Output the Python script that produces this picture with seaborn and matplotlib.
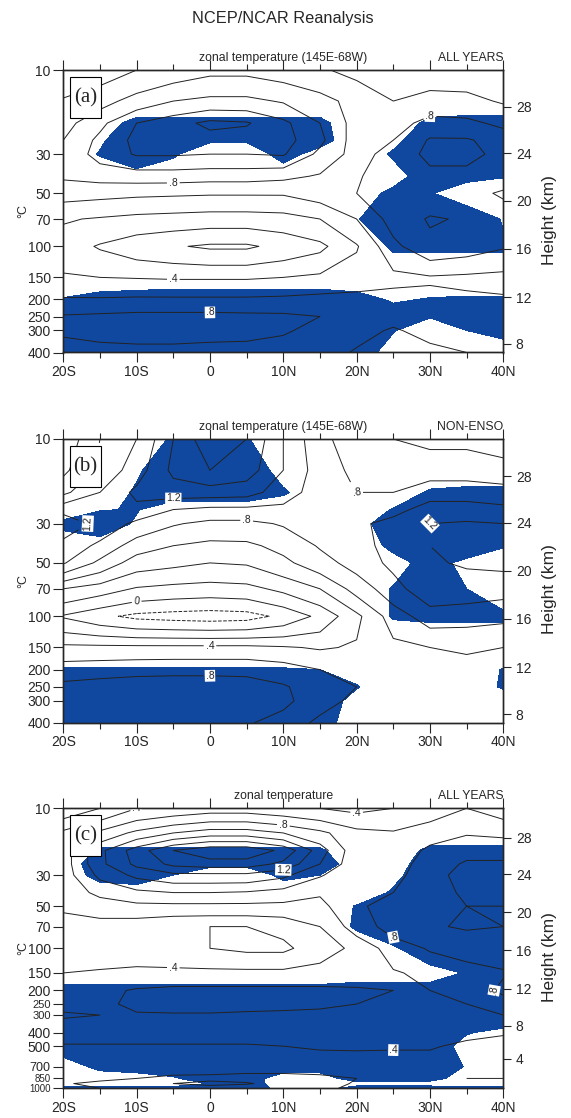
import numpy as np
import matplotlib
matplotlib.use("Agg")
import matplotlib.pyplot as plt
import matplotlib.patches as mpatches
from matplotlib.ticker import NullLocator
import seaborn as sns

sns.set_style("ticks")
plt.rcParams['font.family'] = ['Liberation Sans', 'DejaVu Sans']

# grid: latitude (deg, S negative) and pressure levels (hPa)
lat = [-20, -15, -10, -5, 0, 5, 10, 15, 20, 25, 30, 35, 40]
lev_ab = [10, 15, 20, 25, 30, 40, 50, 70, 100, 150, 200, 250, 300, 400]
lev_c = [10, 15, 20, 25, 30, 40, 50, 70, 100, 150, 200, 250, 300, 400, 500, 700, 850, 925, 1000]

# (a) zonal temperature 145E-68W, all years (rows = levels, cols = lat)
temp_a = [
    [0.45, 0.5, 0.6, 0.68, 0.75, 0.75, 0.7, 0.62, 0.55, 0.5, 0.52, 0.5, 0.42],
    [0.62, 0.72, 0.88, 1.0, 1.05, 1.05, 0.98, 0.88, 0.72, 0.6, 0.65, 0.65, 0.58],
    [0.72, 0.95, 1.2, 1.32, 1.45, 1.42, 1.25, 1.0, 0.72, 0.7, 0.88, 0.85, 0.75],
    [0.8, 1.05, 1.25, 1.3, 1.32, 1.3, 1.28, 1.05, 0.7, 0.8, 1.02, 1.02, 0.92],
    [0.84, 1.08, 1.22, 1.22, 1.2, 1.2, 1.22, 0.95, 0.72, 0.88, 1.05, 1.05, 0.95],
    [0.83, 0.88, 0.9, 0.9, 0.88, 0.88, 0.85, 0.78, 0.78, 0.9, 0.95, 0.95, 0.88],
    [0.68, 0.66, 0.64, 0.63, 0.62, 0.62, 0.62, 0.7, 0.8, 0.85, 0.88, 0.85, 0.78],
    [0.42, 0.38, 0.34, 0.32, 0.3, 0.3, 0.32, 0.4, 0.6, 0.88, 1.02, 0.98, 0.88],
    [0.3, 0.18, 0.08, 0.02, -0.03, -0.03, 0.06, 0.15, 0.38, 0.75, 0.95, 0.9, 0.82],
    [0.42, 0.4, 0.39, 0.38, 0.38, 0.38, 0.4, 0.44, 0.5, 0.55, 0.58, 0.56, 0.54],
    [0.62, 0.62, 0.63, 0.63, 0.63, 0.63, 0.64, 0.66, 0.66, 0.66, 0.64, 0.63, 0.62],
    [0.82, 0.84, 0.86, 0.86, 0.86, 0.85, 0.84, 0.8, 0.72, 0.66, 0.7, 0.72, 0.72],
    [0.83, 0.86, 0.87, 0.87, 0.86, 0.85, 0.82, 0.75, 0.66, 0.58, 0.66, 0.72, 0.75],
    [0.72, 0.74, 0.75, 0.75, 0.74, 0.74, 0.72, 0.68, 0.58, 0.5, 0.55, 0.6, 0.62],
]
sig_a = [
    [0, 0, 0, 0, 0, 0, 0, 0, 0, 0, 0, 0, 0],
    [0, 0, 0, 0, 0, 0, 0, 0, 0, 0, 0, 0, 0],
    [0, 0.2, 0.7, 0.7, 0.7, 0.7, 0.7, 0.7, 0, 0, 0.7, 0.8, 0.8],
    [0, 0.4, 1, 1, 0.6, 0.6, 1, 0.8, 0, 0.3, 1, 1, 1],
    [0, 0.55, 1, 0.6, 0, 0, 0.8, 0.2, 0, 0.6, 1, 1, 1],
    [0, 0, 0.2, 0, 0, 0, 0, 0, 0, 0.2, 0.9, 0.7, 0.55],
    [0, 0, 0, 0, 0, 0, 0, 0, 0.1, 0.7, 0.55, 0.1, 0],
    [0, 0, 0, 0, 0, 0, 0, 0, 0.45, 1, 1, 1, 0.45],
    [0, 0, 0, 0, 0, 0, 0, 0, 0, 0.6, 0.6, 0.6, 0.6],
    [0, 0, 0, 0, 0, 0, 0, 0, 0, 0, 0, 0, 0],
    [0.55, 0.8, 0.9, 1, 1, 1, 1, 1, 0.8, 0.4, 0.55, 0.6, 0.6],
    [1, 1, 1, 1, 1, 1, 1, 1, 1, 0.9, 0.55, 1, 1],
    [1, 1, 1, 1, 1, 1, 1, 1, 1, 0.55, 0, 0.5, 1],
    [1, 1, 1, 1, 1, 1, 1, 1, 1, 0.1, 0, 0, -0.4],
]

# (b) zonal temperature 145E-68W, non-ENSO years
temp_b = [
    [0.45, 0.8, 1.0, 1.4, 1.75, 1.6, 1.2, 0.85, 0.7, 0.6, 0.55, 0.55, 0.5],
    [0.55, 0.85, 1.1, 1.45, 1.6, 1.5, 1.2, 0.9, 0.75, 0.7, 0.72, 0.72, 0.68],
    [0.75, 1.0, 1.25, 1.3, 1.3, 1.28, 1.1, 0.9, 0.8, 0.8, 0.9, 0.9, 0.88],
    [1.15, 1.1, 1.15, 1.0, 0.95, 0.95, 0.95, 0.95, 0.85, 0.92, 1.1, 1.1, 1.05],
    [1.3, 1.15, 0.95, 0.82, 0.75, 0.75, 0.82, 0.92, 0.95, 1.08, 1.2, 1.22, 1.2],
    [1.15, 0.95, 0.7, 0.6, 0.55, 0.56, 0.66, 0.82, 0.92, 1.08, 1.2, 1.25, 1.25],
    [1.02, 0.75, 0.5, 0.45, 0.4, 0.42, 0.55, 0.72, 0.88, 1.05, 1.18, 1.22, 1.25],
    [0.4, 0.3, 0.18, 0.14, 0.12, 0.14, 0.25, 0.4, 0.68, 0.92, 1.15, 1.12, 1.08],
    [-0.02, -0.15, -0.25, -0.28, -0.3, -0.28, -0.15, 0.05, 0.35, 0.7, 0.9, 0.88, 0.85],
    [0.45, 0.45, 0.45, 0.45, 0.45, 0.45, 0.42, 0.38, 0.42, 0.55, 0.6, 0.62, 0.6],
    [0.7, 0.72, 0.74, 0.75, 0.75, 0.75, 0.7, 0.6, 0.55, 0.55, 0.55, 0.55, 0.55],
    [0.85, 0.88, 0.9, 0.9, 0.9, 0.88, 0.82, 0.7, 0.6, 0.55, 0.5, 0.52, 0.52],
    [0.88, 0.92, 0.95, 0.95, 0.95, 0.92, 0.85, 0.68, 0.55, 0.5, 0.48, 0.5, 0.5],
    [0.85, 0.88, 0.88, 0.86, 0.85, 0.82, 0.72, 0.55, 0.45, 0.45, 0.42, 0.45, 0.45],
]
sig_b = [
    [0, 0, 0, 0.6, 1, 0.55, 0, 0, 0, 0, 0, 0, 0],
    [0, 0, 0.4, 1, 1, 1, 0.2, 0, 0, 0, 0, 0, 0],
    [0, 0, 0.6, 1, 1, 1, 0.6, 0, 0, 0, 0.6, 0.7, 0.7],
    [0, 0.45, 0.55, 0, 0, 0, 0, 0, 0, 0.55, 1, 1, 1],
    [0.7, 1, 0.4, 0, 0, 0, 0, 0, 0.15, 1, 1, 1, 1],
    [0, 0.1, 0, 0, 0, 0, 0, 0, 0, 0.7, 1, 1, 0.55],
    [0, 0, 0, 0, 0, 0, 0, 0, 0, 0.2, 0.8, 0.3, 0.1],
    [0, 0, 0, 0, 0, 0, 0, 0, 0, 0.55, 1, 0.5, 0.2],
    [0, 0, 0, 0, 0, 0, 0, 0, 0, 0.55, 0.6, 0.6, 0.6],
    [0, 0, 0, 0, 0, 0, 0, 0, 0, 0, 0, 0, 0],
    [0.55, 0.55, 0.55, 0.55, 0.55, 0.55, 0.55, 0.5, 0.2, 0, 0, 0, 0.55],
    [1, 1, 1, 1, 1, 1, 1, 1, 0.55, 0, 0, 0, 0.6],
    [1, 1, 1, 1, 1, 1, 1, 1, 0.2, 0, 0, 0, 0],
    [1, 1, 1, 1, 1, 1, 1, 0.9, 0, 0, 0, 0, 0],
]

# (c) zonal temperature, all years, down to 1000 hPa
temp_c = [
    [0.05, 0.2, 0.4, 0.45, 0.5, 0.5, 0.45, 0.4, 0.35, 0.4, 0.5, 0.6, 0.5],
    [0.45, 0.65, 0.85, 1.0, 1.1, 1.1, 1.0, 0.85, 0.66, 0.62, 0.7, 0.78, 0.75],
    [0.5, 0.95, 1.3, 1.6, 1.75, 1.75, 1.55, 1.1, 0.66, 0.64, 0.85, 0.95, 0.95],
    [0.5, 0.95, 1.25, 1.45, 1.5, 1.5, 1.35, 1.0, 0.66, 0.68, 0.92, 1.02, 1.02],
    [0.5, 0.85, 1.05, 1.15, 1.15, 1.15, 1.05, 0.82, 0.65, 0.72, 0.95, 1.05, 1.05],
    [0.48, 0.65, 0.75, 0.8, 0.8, 0.78, 0.72, 0.62, 0.66, 0.8, 0.95, 1.02, 1.02],
    [0.42, 0.5, 0.55, 0.55, 0.55, 0.55, 0.55, 0.55, 0.75, 0.92, 0.98, 1.0, 1.0],
    [0.35, 0.32, 0.28, 0.22, 0.2, 0.2, 0.25, 0.4, 0.7, 0.88, 0.98, 1.02, 1.0],
    [0.32, 0.3, 0.28, 0.25, 0.2, 0.16, 0.16, 0.3, 0.45, 0.7, 0.82, 0.88, 0.9],
    [0.4, 0.42, 0.45, 0.45, 0.45, 0.45, 0.45, 0.48, 0.52, 0.58, 0.65, 0.72, 0.78],
    [0.52, 0.55, 0.62, 0.65, 0.65, 0.65, 0.65, 0.64, 0.62, 0.6, 0.6, 0.65, 0.85],
    [0.55, 0.55, 0.65, 0.68, 0.68, 0.68, 0.68, 0.66, 0.6, 0.55, 0.55, 0.6, 0.7],
    [0.62, 0.6, 0.58, 0.58, 0.58, 0.56, 0.54, 0.52, 0.5, 0.5, 0.5, 0.55, 0.6],
    [0.5, 0.5, 0.5, 0.5, 0.5, 0.5, 0.5, 0.48, 0.47, 0.46, 0.45, 0.45, 0.42],
    [0.38, 0.38, 0.38, 0.38, 0.38, 0.38, 0.4, 0.42, 0.42, 0.42, 0.42, 0.36, 0.32],
    [0.28, 0.3, 0.32, 0.32, 0.3, 0.3, 0.3, 0.3, 0.32, 0.3, 0.3, 0.28, 0.25],
    [0.2, 0.25, 0.2, 0.15, 0.15, 0.12, 0.12, 0.15, 0.2, 0.25, 0.22, 0.2, 0.2],
    [0.22, 0.15, 0.15, 0.2, 0.25, 0.22, 0.12, 0.12, 0.22, 0.25, 0.25, 0.25, 0.25],
    [0.25, 0.2, 0.15, 0.15, 0.12, 0.08, 0.1, 0.15, 0.25, 0.22, 0.2, 0.22, 0.28],
]
sig_c = [
    [0, 0, 0, 0, 0, 0, 0, 0, 0, 0, 0, 0, 0],
    [0, 0, 0, 0, 0, 0, 0, 0, 0, 0, 0, 0, 0],
    [0, 0.6, 0.6, 0.6, 0.6, 0.6, 0.6, 0.6, 0, 0, 0.7, 0.75, 0.75],
    [0, 1, 1, 0.8, 0.7, 0.7, 1, 1, 0, 0.1, 1, 1, 1],
    [0, 0.8, 1, 0.5, 0, 0, 0.7, 0.5, 0, 0.3, 1, 1, 1],
    [0, 0, 0, 0, 0, 0, 0, 0, 0, 0.6, 1, 1, 1],
    [0, 0, 0, 0, 0, 0, 0, 0, 0.55, 1, 1, 1, 1],
    [0, 0, 0, 0, 0, 0, 0, 0, 0.6, 1, 1, 1, 1],
    [0, 0, 0, 0, 0, 0, 0, 0, 0, 0.4, 1, 1, 1],
    [0, 0, 0, 0, 0, 0, 0, 0, 0.2, 0.2, 0.2, 0.55, 1],
    [0.8, 0.8, 0.8, 0.8, 0.8, 0.8, 0.8, 0.8, 0.8, 0.8, 0.8, 1, 1],
    [1, 1, 1, 1, 1, 1, 1, 1, 1, 1, 1, 1, 1],
    [1, 1, 1, 1, 1, 1, 1, 1, 1, 1, 1, 1, 1],
    [1, 1, 1, 1, 1, 1, 1, 1, 1, 1, 1, 0.55, 0.3],
    [1, 1, 1, 1, 1, 1, 1, 1, 1, 1, 1, 0.2, 0],
    [0, 0.75, 1, 1, 1, 1, 1, 1, 1, 1, 1, 0.45, 0],
    [0, 0, 0, 0.4, 1, 1, 0, 0, 1, 1, 0.8, 0.1, 0],
    [0, 0, 0, 0, 0.55, 1, 0, 0, 0.2, 0.2, 0.2, 0, 0],
    [0.8, 0.8, 0.8, 0.8, 1, 1, 0.2, 0.2, 0.8, 0.8, 0.8, 0.8, 0.8],
]

lat_ticks = [-20, -10, 0, 10, 20, 30, 40]
lat_labels = ['20S', '10S', '0', '10N', '20N', '30N', '40N']
p_ticks_ab = [10, 30, 50, 70, 100, 150, 200, 250, 300, 400]
p_ticks_c = [10, 30, 50, 70, 100, 150, 200, 250, 300, 400, 500, 700, 850, 1000]
# height axis, US standard atmosphere
z_km = [4, 8, 12, 16, 20, 24, 28]
z_hpa = [616.6, 356.5, 194.0, 103.5, 55.3, 29.7, 16.2]

shade = '#1048a0'
line_col = '#222222'
cont_levels = np.round(np.arange(-0.6, 2.01, 0.2), 1)


def fmt(v):
    if abs(v) < 1e-9:
        return '0'
    s = f'{v:.1f}'
    if s.startswith('0.'):
        s = s[1:]
    elif s.startswith('-0.'):
        s = '-' + s[2:]
    return s


def draw_panel(ax, lev, temp, sig, p_ticks, pbot, tag, subtitle, right_text,
               label_at, small_ticks):
    ax.contourf(lat, lev, sig, levels=[0.5, 5], colors=[shade])
    cs = ax.contour(lat, lev, temp, levels=cont_levels, colors=line_col,
                    linewidths=0.7)
    lab_lev = [l for l in cs.levels if any(abs(l - k) < 1e-6 for k in label_at)]
    labs = ax.clabel(cs, levels=lab_lev, fmt=fmt, fontsize=7.5, inline=True,
                     inline_spacing=2)
    for t in labs:
        t.set_bbox(dict(facecolor='white', edgecolor='none', pad=0.6))
    ax.set_yscale('log')
    ax.set_ylim(pbot, 10)
    ax.set_xlim(-20, 40)
    ax.set_yticks(p_ticks)
    ax.set_yticklabels([str(p) for p in p_ticks])
    for t in ax.get_yticklabels():
        if t.get_text() in small_ticks:
            t.set_fontsize(small_ticks[t.get_text()])
    ax.yaxis.set_minor_locator(NullLocator())
    ax.set_xticks(lat_ticks)
    ax.set_xticklabels(lat_labels)
    ax.set_xticks([-15, -5, 5, 15, 25, 35], minor=True)
    ax.tick_params(axis='x', which='both', top=True, bottom=True, direction='out')
    ax.tick_params(which='major', length=7, width=0.8, pad=2)
    ax.tick_params(axis='x', labelsize=10)
    ax.tick_params(axis='x', which='minor', length=4, width=0.8)
    for sp in ax.spines.values():
        sp.set_linewidth(1.0)

    ax2 = ax.twinx()
    ax2.set_yscale('log')
    ax2.set_ylim(pbot, 10)
    zt = [(z, p) for z, p in zip(z_km, z_hpa) if p < pbot]
    ax2.set_yticks([p for z, p in zt])
    ax2.set_yticklabels([str(z) for z, p in zt])
    ax2.yaxis.set_minor_locator(NullLocator())
    ax2.tick_params(axis='y', length=6, width=0.8, labelsize=10, pad=3)
    for sp in ax2.spines.values():
        sp.set_linewidth(1.0)
    ax2.text(1.105, 0.47, 'Height (km)', transform=ax.transAxes, rotation=90,
             ha='center', va='center', fontsize=12.5)

    ax.text(-0.09, 0.5, '°C', transform=ax.transAxes, rotation=90,
            ha='center', va='center', fontsize=9)
    ax.text(0.5, 1.022, subtitle, transform=ax.transAxes, ha='center',
            va='bottom', fontsize=8.8)
    ax.text(1.0, 1.022, right_text, transform=ax.transAxes, ha='right',
            va='bottom', fontsize=8.8)

    box = mpatches.Rectangle((0.015, 0.83), 0.07, 0.145, transform=ax.transAxes,
                             facecolor='white', edgecolor='black', lw=0.8, zorder=5)
    ax.add_patch(box)
    ax.text(0.05, 0.902, tag, transform=ax.transAxes, ha='center', va='center',
            fontsize=15, family=['Liberation Serif', 'DejaVu Serif'], zorder=6)


fig = plt.figure(figsize=(5.71, 11.18), dpi=100)
L, W = 63.3 / 571, 440 / 571
ax_a = fig.add_axes([L, 1 - 352.5 / 1118, W, 282.5 / 1118])
ax_b = fig.add_axes([L, 1 - 723 / 1118, W, 284 / 1118])
ax_c = fig.add_axes([L, 1 - 1088.3 / 1118, W, 280 / 1118])
for a in (ax_a, ax_b, ax_c):
    a.tick_params(axis='y', labelsize=10)

draw_panel(ax_a, lev_ab, temp_a, sig_a, p_ticks_ab, 400, '(a)',
           'zonal temperature (145E-68W)', 'ALL YEARS', (0.4, 0.8), {})
draw_panel(ax_b, lev_ab, temp_b, sig_b, p_ticks_ab, 400, '(b)',
           'zonal temperature (145E-68W)', 'NON-ENSO', (0.0, 0.4, 0.8, 1.2), {})
draw_panel(ax_c, lev_c, temp_c, sig_c, p_ticks_c, 1000, '(c)',
           'zonal temperature', 'ALL YEARS', (0.4, 0.8, 1.2),
           {'250': 8, '300': 8, '700': 9, '850': 7, '1000': 7})

fig.text(283 / 571, 1 - 18 / 1118, 'NCEP/NCAR Reanalysis', ha='center',
         va='center', fontsize=11.8)

fig.savefig('out.png', dpi=100)
